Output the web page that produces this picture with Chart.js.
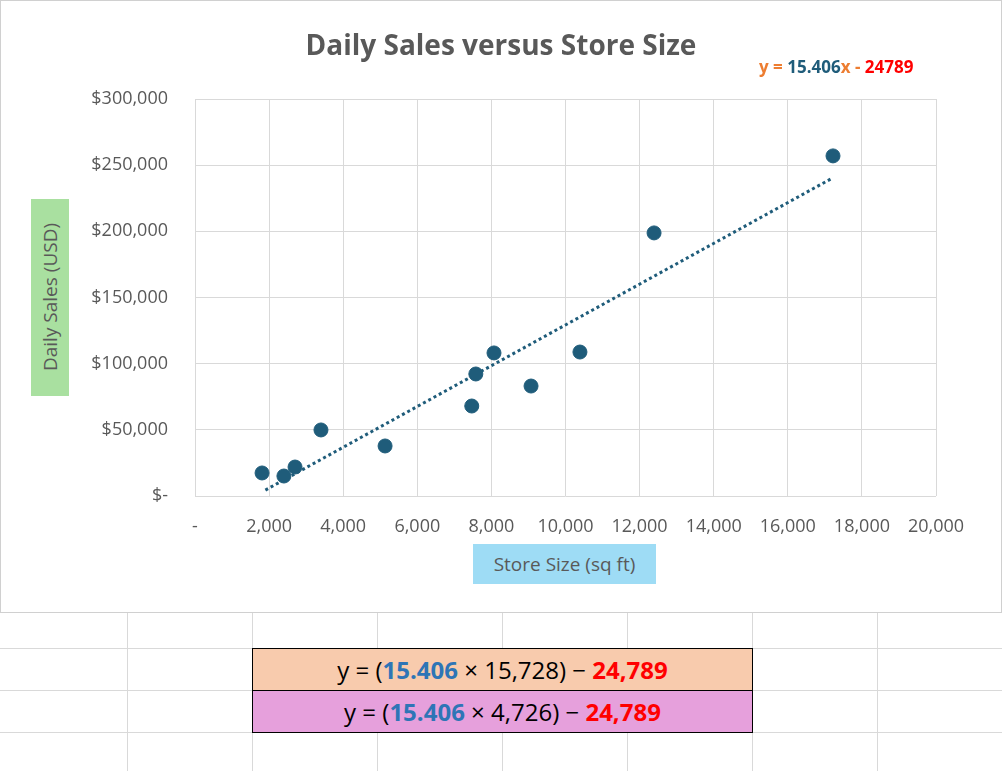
<!DOCTYPE html>
<html><head><meta charset="utf-8">
<script src="https://cdn.jsdelivr.net/npm/chart.js@4"></script>
<style>
body{margin:0;width:1002px;height:771px;position:relative;background:#fff;font-family:"Open Sans","Liberation Sans",sans-serif;overflow:hidden}
#wrap{position:absolute;left:0;top:0;width:1000px;height:611px;border:1px solid #d0d0d0;background:#fff}
.vl{position:absolute;top:613px;width:1px;height:160px;background:#d9d9d9}
.hl{position:absolute;left:0;width:1002px;height:1px;background:#d9d9d9}
.cell{position:absolute;left:252px;width:499px;height:41px;border:1px solid #000;text-align:center;font-size:24px;line-height:41px;color:#000}
.b{font-weight:bold;color:#2E75B6}.r{font-weight:bold;color:#FF0000}.o{font-weight:bold;color:#ED7D31}
</style></head><body>
<div class="vl" style="left:127px"></div><div class="vl" style="left:252px"></div><div class="vl" style="left:377px"></div>
<div class="vl" style="left:502px"></div><div class="vl" style="left:627px"></div><div class="vl" style="left:752px"></div><div class="vl" style="left:877px"></div>
<div class="hl" style="top:648px"></div><div class="hl" style="top:690px"></div><div class="hl" style="top:732px"></div>
<div class="cell" style="top:648px;background:#F8CBAD">y = (<span class="b">15.406</span> × 15,728) − <span class="r">24,789</span></div>
<div class="cell" style="top:690px;background:#E6A0DC">y = (<span class="b">15.406</span> × 4,726) − <span class="r">24,789</span></div>
<div id="wrap">
<canvas id="myChart" width="1000" height="611"></canvas>
<div style="position:absolute;left:0;width:1000px;top:24px;text-align:center;font-size:28px;font-weight:bold;color:#595959">Daily Sales versus Store Size</div>
<div style="position:absolute;left:758px;top:54px;font-size:17px"><span class="o">y = </span><span style="font-weight:bold;color:#1F5C7A">15.406</span><span class="o">x - </span><span class="r">24789</span></div>
<div style="position:absolute;left:30px;top:198px;width:38px;height:197px;background:#A9E0A0"><div style="position:absolute;left:19px;top:98px;transform:translate(-50%,-50%) rotate(-90deg);white-space:nowrap;font-size:19px;color:#595959">Daily Sales (USD)</div></div>
<div style="position:absolute;left:472px;top:543px;width:183px;height:40px;background:#9EDCF5;text-align:center;line-height:40px;font-size:19px;color:#595959">Store Size (sq ft)</div>
</div>
<script>
const storeSize = [1810, 2400, 2700, 3400, 5130, 7470, 7580, 8070, 9070, 10390, 12390, 17220];
const dailySales = [17400, 15100, 21900, 49900, 37800, 68000, 92200, 108100, 83100, 108800, 198800, 257000];
const slope = 15.406, intercept = -24789;
const trendX = [1900, 17200];
const xTicks = [0, 2000, 4000, 6000, 8000, 10000, 12000, 14000, 16000, 18000, 20000];

const fmtUSD = v => v === 0 ? '$-' : '$' + v.toLocaleString('en-US');
const fmtNum = v => v === 0 ? '-' : v.toLocaleString('en-US');

const chart = document.getElementById("myChart");
new Chart(chart, {
    type: 'scatter',
    data: {
        datasets: [{
            data: storeSize.map((x, i) => ({x: x, y: dailySales[i]})),
            backgroundColor: '#1F5C7A',
            borderColor: '#1F5C7A',
            pointRadius: 7
        }, {
            type: 'line',
            data: trendX.map(x => ({x: x, y: slope * x + intercept})),
            borderColor: '#1F5C7A',
            borderWidth: 3,
            borderDash: [3, 3],
            pointRadius: 0,
            fill: false
        }]
    },
    options: {
        responsive: false,
        animation: false,
        layout: {padding: {top: 98, right: 65, left: 0, bottom: 0}},
        plugins: {legend: {display: false}, tooltip: {enabled: false}},
        scales: {
            x: {
                type: 'linear', min: 0, max: 20000,
                afterBuildTicks: s => { s.ticks = xTicks.map(v => ({value: v})); },
                afterFit: s => { s.height = 116; },
                grid: {color: '#d9d9d9', drawTicks: false},
                border: {display: false},
                ticks: {padding: 20, color: '#595959', font: {size: 18, family: 'Open Sans'}, callback: fmtNum}
            },
            y: {
                min: 0, max: 300000,
                afterFit: s => { s.width = 194; },
                grid: {color: '#d9d9d9', drawTicks: false},
                border: {display: false},
                ticks: {stepSize: 50000, padding: 27, color: '#595959', font: {size: 18, family: 'Open Sans'}, callback: fmtUSD}
            }
        }
    }
});
</script>
</body></html>
